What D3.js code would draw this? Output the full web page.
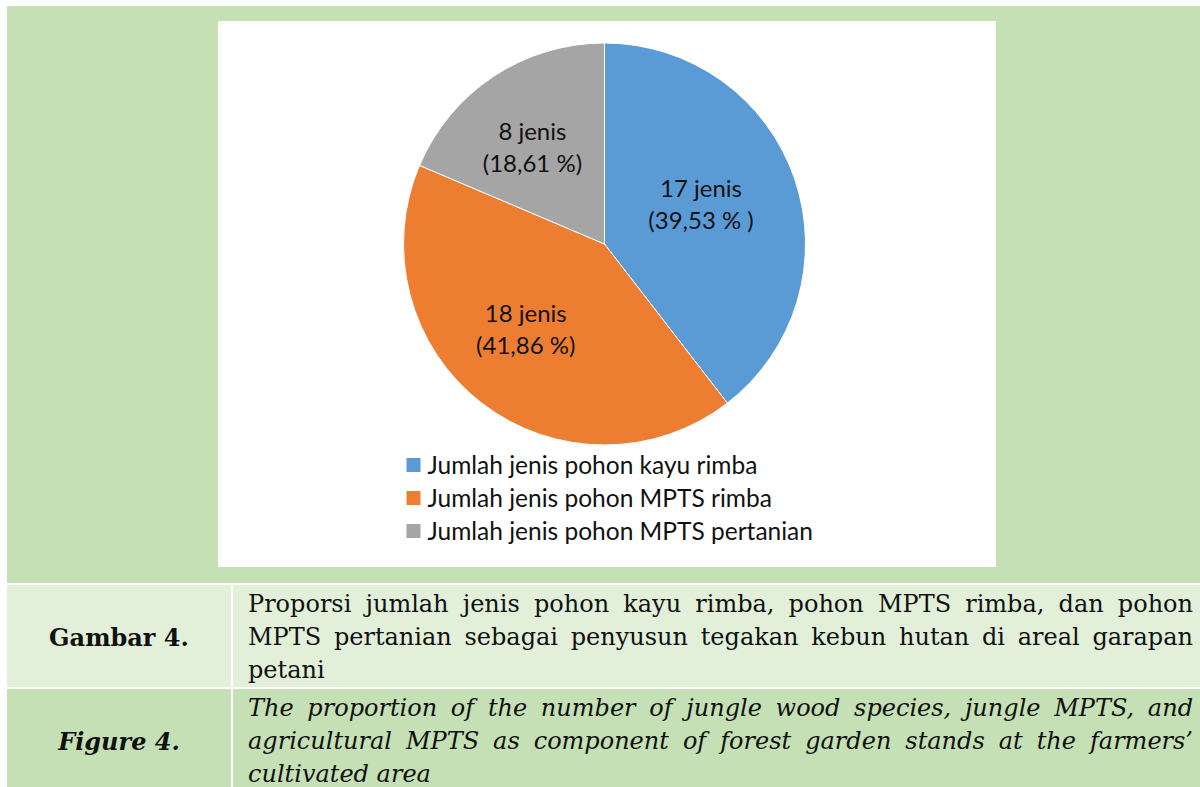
<!DOCTYPE html>
<html>
<head>
<meta charset="utf-8">
<script src="https://cdn.jsdelivr.net/npm/d3@7"></script>
<style>
  html, body { margin: 0; padding: 0; width: 1200px; height: 787px; overflow: hidden; background: #fff; }
  .box { position: absolute; }
  .cap { font-family: "DejaVu Serif", serif; font-size: 24px; line-height: 33px; color: #111; }
  .line { text-align: justify; text-align-last: justify; }
  .line.last { text-align-last: left; }
</style>
</head>
<body>
<div id="page"></div>
<script>
const categories = ["Jumlah jenis pohon kayu rimba", "Jumlah jenis pohon MPTS rimba", "Jumlah jenis pohon MPTS pertanian"];
const values = [17, 18, 8];
const labelTop = ["17 jenis", "18 jenis", "8 jenis"];
const labelBottom = ["(39,53 % )", "(41,86 %)", "(18,61 %)"];
const colors = ["#5b9bd5", "#ed7d31", "#a5a5a5"];

const captionId = ["Proporsi jumlah jenis pohon kayu rimba, pohon MPTS rimba, dan pohon",
  "MPTS pertanian sebagai penyusun tegakan kebun hutan di areal garapan",
  "petani"];
const captionEn = ["The proportion of the number of jungle wood species, jungle MPTS, and",
  "agricultural MPTS as component of forest garden stands at the farmers\u2019",
  "cultivated area"];

const page = d3.select('#page');

// backgrounds
page.append('div').attr('class', 'box')
  .style('left', '7px').style('top', '6px').style('width', '1193px').style('height', '577px')
  .style('background', '#c5e0b4');

const rows = [
  { top: 585, height: 102, bg: '#e2efd9', label: 'Gambar 4.', italic: false, lines: captionId },
  { top: 689, height: 110, bg: '#c5e0b4', label: 'Figure 4.', italic: true, lines: captionEn }
];

rows.forEach(r => {
  page.append('div').attr('class', 'box')
    .style('left', '7px').style('top', r.top + 'px').style('width', '224px').style('height', r.height + 'px')
    .style('background', r.bg);
  page.append('div').attr('class', 'box cap')
    .style('left', '7px').style('top', (r.top + 36) + 'px').style('width', '224px')
    .style('text-align', 'center').style('font-weight', 'bold')
    .style('font-style', r.italic ? 'italic' : 'normal')
    .text(r.label);

  page.append('div').attr('class', 'box')
    .style('left', '233px').style('top', r.top + 'px').style('width', '967px').style('height', r.height + 'px')
    .style('background', r.bg);
  const txt = page.append('div').attr('class', 'box cap')
    .style('left', '248px').style('top', (r.top + 3) + 'px').style('width', '945px')
    .style('font-style', r.italic ? 'italic' : 'normal');
  txt.selectAll('div').data(r.lines).enter().append('div')
    .attr('class', (d, i) => i === r.lines.length - 1 ? 'line last' : 'line')
    .text(d => d);
});

// chart
const width = 778;
const height = 546;
const radius = 201;

const svg = page.append('svg')
  .attr('class', 'box')
  .style('left', '218px').style('top', '21px')
  .attr('width', width)
  .attr('height', height);

svg.append('rect').attr('width', width).attr('height', height).attr('fill', '#fff');

const g = svg.append('g').attr('transform', `translate(386.5, 223)`);

const pie = d3.pie().sort(null).value(d => d);
const arcs = pie(values);
const arc = d3.arc().innerRadius(0).outerRadius(radius);
const labelArc = d3.arc().innerRadius(radius * 0.56).outerRadius(radius * 0.56);

g.selectAll('path')
  .data(arcs)
  .enter()
  .append('path')
  .attr('d', arc)
  .attr('fill', (d, i) => colors[i])
  .attr('stroke', '#fff')
  .attr('stroke-width', 1);

// labels sit a little left of the centroid, like the original
const labelLayer = g.append('g').attr('transform', 'translate(-10, -3)');
const labels = labelLayer.selectAll('g.lbl')
  .data(arcs)
  .enter()
  .append('g')
  .attr('class', 'lbl')
  .attr('transform', d => `translate(${labelArc.centroid(d)})`)
  .style('font-family', 'Lato, sans-serif')
  .style('font-size', '24px')
  .attr('fill', '#111')
  .attr('text-anchor', 'middle');

labels.append('text').attr('y', -16).attr('dy', '0.35em').text((d, i) => labelTop[i]);
labels.append('text').attr('y', 16).attr('dy', '0.35em').text((d, i) => labelBottom[i]);

// legend
const legend = svg.append('g').attr('transform', 'translate(188.5, 444)');
const item = legend.selectAll('g')
  .data(categories)
  .enter()
  .append('g')
  .attr('transform', (d, i) => `translate(0, ${i * 33})`);

item.append('rect')
  .attr('y', -7)
  .attr('width', 14)
  .attr('height', 14)
  .attr('fill', (d, i) => colors[i]);

item.append('text')
  .attr('x', 21)
  .attr('dy', '0.35em')
  .style('font-family', 'Lato, sans-serif')
  .style('font-size', '24.5px')
  .attr('fill', '#111')
  .text(d => d);
</script>
</body>
</html>
